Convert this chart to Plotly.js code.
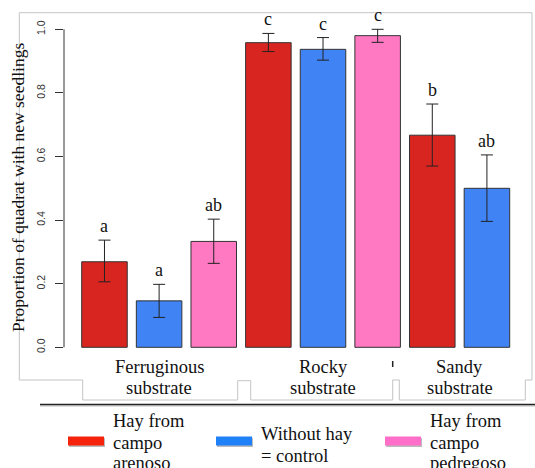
<!DOCTYPE html>
<html>
<head>
<meta charset="utf-8">
<script src="https://cdn.plot.ly/plotly-3.0.1.min.js"></script>
<style>
html,body{margin:0;padding:0;background:#fff;}
#chart{width:535px;height:468px;}
</style>
</head>
<body>
<div id="chart"></div>
<script>
// ---- data ----
const substrates = ['Ferruginous<br>substrate', 'Rocky<br>substrate', 'Sandy<br>substrate'];
const treatments = ['Hay from<br>campo<br>arenoso', 'Without hay<br>= control', 'Hay from<br>campo<br>pedregoso'];
const barSubstrate = [0, 0, 0, 1, 1, 1, 2, 2];
const barTreatment = [0, 1, 2, 0, 1, 2, 0, 1];
const means  = [0.269, 0.146, 0.333, 0.958, 0.937, 0.980, 0.667, 0.500];
const upper  = [0.337, 0.198, 0.403, 0.987, 0.974, 1.000, 0.765, 0.605];
const lower  = [0.206, 0.094, 0.264, 0.930, 0.903, 0.959, 0.570, 0.396];
const letters = ['a', 'a', 'ab', 'c', 'c', 'c', 'b', 'ab'];
const yTickVals = [0, 0.2, 0.4, 0.6, 0.8, 1.0];
const yTickText = ['0.0', '0.2', '0.4', '0.6', '0.8', '1.0'];

// ---- style ----
const barColors = ['#d92520', '#4083f5', '#ff78c2'];
const legendColors = ['#f5220c', '#1f80f7', '#ff6ec8'];
const SERIF = "Liberation Serif";
const SANS = "Liberation Sans";

// layout geometry (pixels)
const W = 535, H = 468;
const L = 64, R = 532, T = 16, B = 360;
const px = x => (x - L) / (R - L);
const py = y => (B - y) / (B - T);

// R-barplot style positions: bar i centred at 0.7 + 1.2*i
const pos = means.map((_, i) => 0.7 + 1.2 * i);

const traces = treatments.map((t, k) => {
  const idx = barTreatment.map((tt, i) => tt === k ? i : -1).filter(i => i >= 0);
  return {
    type: 'bar',
    name: t.replace(/<br>/g, ' '),
    x: idx.map(i => pos[i]),
    y: idx.map(i => means[i]),
    width: 1,
    marker: {color: barColors[k], line: {color: '#333', width: 1}},
    error_y: {
      type: 'data', symmetric: false,
      array: idx.map(i => upper[i] - means[i]),
      arrayminus: idx.map(i => means[i] - lower[i]),
      color: '#222', thickness: 1, width: 6
    },
    showlegend: false,
    hoverinfo: 'skip'
  };
});

const annotations = [];
const serifFont = size => ({family: SERIF, size: size, color: '#111'});
// significance letters
letters.forEach((l, i) => {
  annotations.push({
    x: pos[i], y: upper[i], xref: 'x', yref: 'y',
    text: l, showarrow: false, xanchor: 'center', yanchor: 'middle',
    yshift: 14, font: serifFont(18)
  });
});
// category labels (one annotation per line)
const catLineY = [366.7, 388.3];
substrates.forEach((s, k) => {
  const xs = pos.filter((_, i) => barSubstrate[i] === k);
  const c = xs.reduce((a, b) => a + b, 0) / xs.length;
  s.split('<br>').forEach((line, j) => {
    annotations.push({
      x: c, y: py(catLineY[j]), xref: 'x', yref: 'paper',
      text: line, showarrow: false, xanchor: 'center', yanchor: 'middle',
      font: serifFont(18.5)
    });
  });
});
// y axis title
annotations.push({
  x: px(18), y: py(188), xref: 'paper', yref: 'paper',
  text: 'Proportion of quadrat with new seedlings', textangle: -90,
  showarrow: false, xanchor: 'center', yanchor: 'middle',
  font: serifFont(17.5)
});

// custom legend
const legSwatch = [68, 216, 385];
const legText = [111, 259, 428];
const legLines3 = [421, 442.5, 463];
const legLines2 = [434, 455.5];
const shapes = [];
treatments.forEach((t, k) => {
  shapes.push({type: 'rect', xref: 'paper', yref: 'paper',
    x0: px(legSwatch[k] + 1), x1: px(legSwatch[k] + 37), y0: py(438), y1: py(447),
    fillcolor: '#bbbbbb', line: {width: 0}});
  shapes.push({type: 'rect', xref: 'paper', yref: 'paper',
    x0: px(legSwatch[k]), x1: px(legSwatch[k] + 36), y0: py(436.5), y1: py(445.5),
    fillcolor: legendColors[k], line: {width: 0}});
  const lines = t.split('<br>');
  const ys = lines.length === 3 ? legLines3 : legLines2;
  lines.forEach((line, j) => {
    annotations.push({
      x: px(legText[k]), y: py(ys[j]), xref: 'paper', yref: 'paper',
      text: line, showarrow: false, xanchor: 'left', yanchor: 'middle', align: 'left',
      font: serifFont(18.5)
    });
  });
});

// y axis line (only from 0 to 1, R style)
shapes.push({type: 'line', xref: 'paper', yref: 'y', x0: 0, x1: 0, y0: 0, y1: 1,
  line: {color: '#333', width: 1}});

// outer grey frame
const frame = [[19.3,12.7],[532,12.7],[532,380],[525.3,380],[525.3,400],[399.3,400],[399.3,380],
  [392.7,380],[392.7,400],[250.7,400],[250.7,380.7],[237.7,380.7],[237.7,400],[82.7,400],
  [82.7,380],[19.3,380]];
let d = frame.map((p, i) => (i === 0 ? 'M ' : 'L ') + px(p[0]).toFixed(5) + ' ' + py(p[1]).toFixed(5)).join(' ') + ' Z';
shapes.push({type: 'path', xref: 'paper', yref: 'paper', path: d,
  line: {color: '#c4c4c4', width: 1}, fillcolor: 'rgba(0,0,0,0)', layer: 'below'});

// black separator line
shapes.push({type: 'line', xref: 'paper', yref: 'paper', x0: px(40), x1: px(535), y0: py(406), y1: py(406),
  line: {color: '#bbbbbb', width: 1}});
shapes.push({type: 'line', xref: 'paper', yref: 'paper', x0: px(40), x1: px(535), y0: py(404.5), y1: py(404.5),
  line: {color: '#222', width: 1.5}});
// small stray mark
shapes.push({type: 'line', xref: 'paper', yref: 'paper', x0: px(392.7), x1: px(392.7), y0: py(361), y1: py(367),
  line: {color: '#222', width: 1.5}});

const layout = {
  width: W, height: H,
  margin: {l: L, r: W - R, t: T, b: H - B, pad: 0},
  paper_bgcolor: '#fff', plot_bgcolor: 'rgba(0,0,0,0)',
  barmode: 'overlay',
  showlegend: false,
  font: {family: SERIF},
  xaxis: {
    range: [(L - 72.6) / 45.53, (R - 72.6) / 45.53],
    showticklabels: false, ticks: '', showgrid: false, zeroline: false, showline: false,
    fixedrange: true
  },
  yaxis: {
    range: [(347.3 - B) / 318, (347.3 - T) / 318],
    tickmode: 'array', tickvals: yTickVals, ticktext: yTickText,
    tickangle: -90, ticks: 'outside', ticklen: 8, tickcolor: '#333', tickwidth: 1,
    ticklabelstandoff: 6,
    tickfont: {family: SANS, size: 10.5, color: '#333'},
    showgrid: false, zeroline: false, showline: false, fixedrange: true
  },
  annotations: annotations,
  shapes: shapes
};

Plotly.newPlot('chart', traces, layout, {displayModeBar: false, staticPlot: true});
</script>
</body>
</html>
